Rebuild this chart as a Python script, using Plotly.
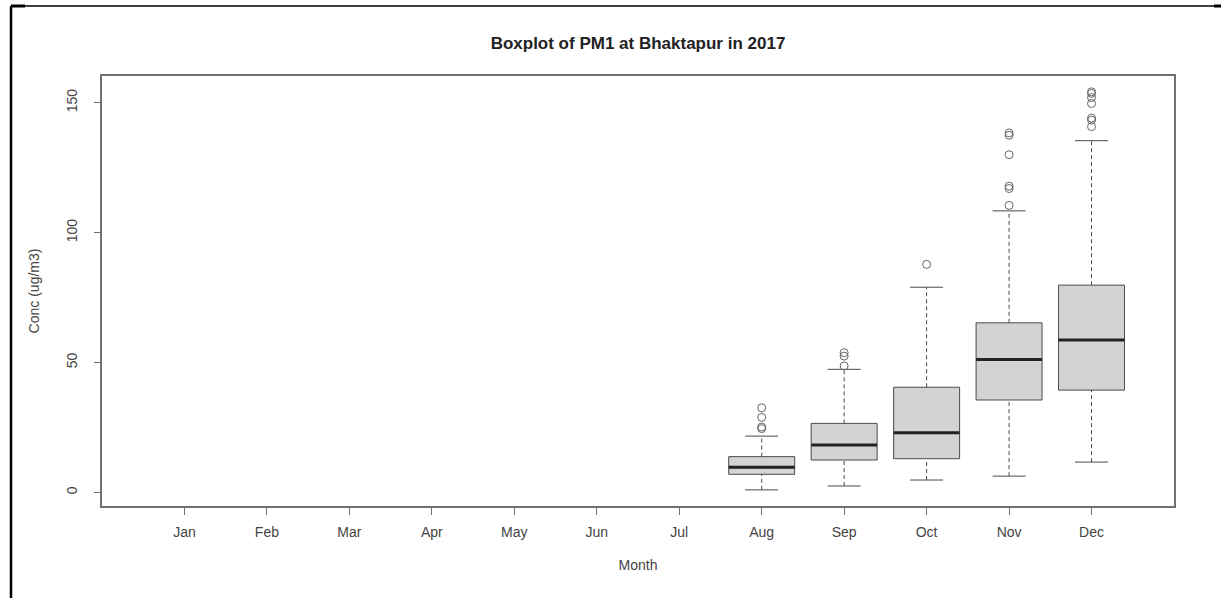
import plotly.graph_objects as go

# ---- data ----
months = ["Jan", "Feb", "Mar", "Apr", "May", "Jun", "Jul", "Aug", "Sep", "Oct", "Nov", "Dec"]
data_months = ["Aug", "Sep", "Oct", "Nov", "Dec"]
lower_whisker = [1.0, 2.5, 4.8, 6.3, 11.7]
q1 = [7.0, 12.5, 13.0, 35.6, 39.4]
median = [9.7, 18.3, 23.0, 51.2, 58.7]
q3 = [13.8, 26.6, 40.5, 65.3, 79.8]
upper_whisker = [21.7, 47.4, 79.0, 108.4, 135.4]
outliers = {
    "Aug": [24.6, 25.2, 28.9, 32.6],
    "Sep": [48.7, 52.5, 53.8],
    "Oct": [87.8],
    "Nov": [110.5, 117.0, 117.9, 130.0, 137.5, 138.4],
    "Dec": [140.8, 143.3, 144.1, 149.7, 152.0, 153.6, 154.2],
}
y_ticks = [0, 50, 100, 150]

# ---- style ----
BOX_W = 0.8
CAP_W = 0.4
BOX_FILL = "#d3d3d3"
BOX_LINE = "#4a4a4a"
AXIS_COL = "#707070"
TEXT_COL = "#444444"
FONT = "Liberation Sans, Arial, sans-serif"

pos = {m: i + 1 for i, m in enumerate(months)}
xs = [pos[m] for m in data_months]

fig = go.Figure()

# boxes (Q1..Q3 with median); whiskers drawn separately as dashed lines
fig.add_trace(go.Box(
    x=xs, q1=q1, median=median, q3=q3,
    lowerfence=q1, upperfence=q3,
    width=BOX_W, whiskerwidth=0, boxpoints=False,
    fillcolor=BOX_FILL, line=dict(color=BOX_LINE, width=1),
    hoverinfo="skip", showlegend=False,
))

# dashed whiskers
wx, wy = [], []
for x, lo, a, b, hi in zip(xs, lower_whisker, q1, q3, upper_whisker):
    wx += [x, x, None, x, x, None]
    wy += [lo, a, None, b, hi, None]
fig.add_trace(go.Scatter(x=wx, y=wy, mode="lines",
                         line=dict(color=BOX_LINE, width=1, dash="4px,3px"),
                         hoverinfo="skip", showlegend=False))

# whisker caps
cx, cy = [], []
for x, lo, hi in zip(xs, lower_whisker, upper_whisker):
    cx += [x - CAP_W / 2, x + CAP_W / 2, None, x - CAP_W / 2, x + CAP_W / 2, None]
    cy += [lo, lo, None, hi, hi, None]
fig.add_trace(go.Scatter(x=cx, y=cy, mode="lines",
                         line=dict(color=BOX_LINE, width=1),
                         hoverinfo="skip", showlegend=False))

# thick medians
mx, my = [], []
for x, m in zip(xs, median):
    mx += [x - BOX_W / 2, x + BOX_W / 2, None]
    my += [m, m, None]
fig.add_trace(go.Scatter(x=mx, y=my, mode="lines",
                         line=dict(color="#222222", width=3),
                         hoverinfo="skip", showlegend=False))

# outliers
ox, oy = [], []
for m in data_months:
    for v in outliers[m]:
        ox.append(pos[m])
        oy.append(v)
fig.add_trace(go.Scatter(x=ox, y=oy, mode="markers",
                         marker=dict(symbol="circle-open", size=8,
                                     color="#666666", line=dict(width=1)),
                         hoverinfo="skip", showlegend=False))

# outer black frame (decorative, in paper coordinates)
L, R, T, B = 102, 1174, 76, 506
def px(x):
    return (x - L) / (R - L)
def py(y):
    return (B - y) / (B - T)
frame = [
    (11, 6, 1216, 6, 1.5),
    (11, 6, 11, 598, 2.5),
    (11, 6, 25, 6, 3),
    (1214, 6, 1221, 6, 3),
]
shapes = [dict(type="line", xref="paper", yref="paper",
               x0=px(a), y0=py(b), x1=px(c), y1=py(d),
               line=dict(color="black", width=w)) for a, b, c, d, w in frame]

fig.update_layout(
    width=1221, height=598,
    margin=dict(l=L, r=1221 - R, t=T, b=598 - B),
    paper_bgcolor="white", plot_bgcolor="white",
    font=dict(family=FONT, size=14, color=TEXT_COL),
    title=dict(text="<b>Boxplot of PM1 at Bhaktapur in 2017</b>",
               x=0.5, xref="paper", xanchor="center",
               y=1 - 43 / 598, yref="container", yanchor="middle",
               font=dict(size=17, color="#222222", family=FONT)),
    shapes=shapes,
    xaxis=dict(
        range=[0, 13], tickvals=list(range(1, 13)), ticktext=months,
        showgrid=False, zeroline=False,
        showline=True, mirror=True, linecolor=AXIS_COL, linewidth=1.5,
        ticks="outside", ticklen=7, tickcolor=AXIS_COL,
        ticklabelstandoff=5,
        title=dict(text="Month", standoff=22, font=dict(size=14)),
    ),
    yaxis=dict(
        range=[-5.2, 160.3], tickvals=y_ticks,
        showgrid=False, zeroline=False,
        showline=True, mirror=True, linecolor=AXIS_COL, linewidth=1.5,
        ticks="outside", ticklen=6, tickcolor=AXIS_COL,
        tickangle=-90, ticklabelstandoff=12,
        title=dict(text="Conc (ug/m3)", standoff=21, font=dict(size=14)),
    ),
)

fig.write_html("out.html", config={"displayModeBar": False},
               post_script="document.body.style.margin='0px';")
